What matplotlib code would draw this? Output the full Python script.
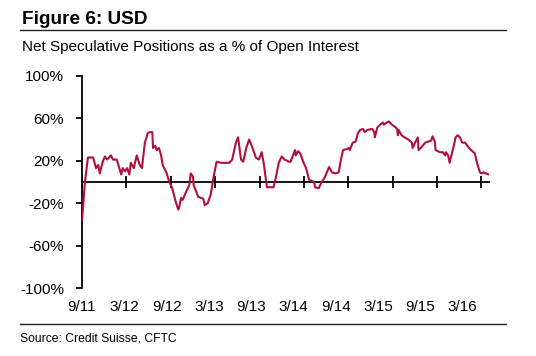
import matplotlib
matplotlib.use("Agg")
import matplotlib.pyplot as plt

plt.rcParams['font.family'] = ['Liberation Sans', 'DejaVu Sans']

# months since Sep 2011 and net positions (% of open interest)
months = [0, 0.4, 0.8, 1.5, 1.9, 2.2, 2.4, 2.8, 3.1, 3.4, 3.9, 4.2, 4.7, 5.3, 5.5,
          5.8, 6.1, 6.4, 6.6, 7.0, 7.4, 7.8, 8.1, 8.5, 8.9, 9.2, 9.5, 9.6, 9.9,
          10.1, 10.4, 10.7, 10.9, 11.4, 11.8, 12.2, 12.6, 13.0, 13.1, 13.4, 13.6,
          14.1, 14.5, 14.7, 15.0, 15.1, 15.7, 16.4, 16.6, 17.0, 17.4, 17.8, 18.2,
          18.8, 19.2, 19.9, 20.3, 20.8, 21.1, 21.5, 21.8, 22.2, 22.6, 23.0, 23.5,
          23.9, 24.3, 24.6, 25.0, 25.5, 25.9, 26.2, 26.6, 27.0, 27.4, 28.0, 28.2,
          28.8, 28.9, 29.2, 29.5, 29.9, 30.3, 30.7, 31.4, 31.5, 32.0, 32.4, 32.8,
          33.4, 33.8, 34.2, 34.7, 35.0, 35.3, 35.8, 36.1, 36.2, 36.6, 37.0, 37.3,
          37.6, 38.0, 38.2, 38.6, 39.2, 39.5, 39.6, 39.9, 40.3, 40.7, 40.8, 41.2,
          41.5, 41.9, 42.3, 42.6, 42.7, 42.8, 43.2, 43.6, 44.1, 44.6, 44.7, 45.1,
          45.4, 45.5, 45.8, 46.4, 46.8, 47.2, 47.4, 47.7, 47.8, 48.4, 48.8, 49.1,
          49.2, 49.5, 49.7, 49.9, 50.3, 50.5, 50.8, 51.1, 51.4, 51.8, 52.2, 52.6,
          53.1, 53.4, 53.8, 54.0, 54.3, 54.6, 55.0]
net_pos = [-36, 0, 23, 23, 13, 16, 8, 19, 24, 21, 25, 21, 21, 7, 13,
           10, 13, 7, 18, 13, 25, 16, 13, 37, 46, 47, 47, 32, 34,
           30, 32, 25, 16, 9, 0, -6, -17, -26, -25, -15, -17,
           -9, -3, 8, 5, -3, -14, -16, -22, -20, -12, 5, 19,
           18, 18, 18, 21, 37, 42, 21, 19, 32, 40, 33, 23,
           21, 28, 16, -5, -5, -5, 4, 18, 24, 21, 19, 19,
           30, 25, 29, 27, 19, 13, 2, 0, -5, -6, 0, 4,
           14, 9, 8, 9, 21, 30, 31, 32, 30, 37, 38, 46,
           49, 50, 47, 49, 50, 47, 42, 51, 54, 56, 54, 56,
           57, 54, 52, 50, 44, 49, 44, 42, 40, 37, 32, 38,
           42, 30, 32, 37, 38, 39, 43, 38, 30, 28, 28, 25,
           28, 25, 18, 24, 35, 42, 44, 42, 37, 37, 33, 30,
           27, 18, 9, 8, 9, 8, 7]

tick_months = [0, 6, 12, 18, 24, 30, 36, 42, 48, 54]
tick_labels = ['9/11', '3/12', '9/12', '3/13', '9/13', '3/14', '9/14', '3/15', '9/15', '3/16']
y_ticks = [-100, -60, -20, 20, 60, 100]

fig = plt.figure(figsize=(5.36, 3.56), dpi=100)
ax = fig.add_axes([0.153, 0.191, 0.759, 0.596])

ax.plot(months, net_pos, color='#B0103A', lw=1.5, zorder=3)

ax.set_xlim(0, 55.0)
ax.set_ylim(-100, 100)

# y axis
ax.spines['top'].set_visible(False)
ax.spines['right'].set_visible(False)
ax.spines['left'].set_linewidth(1.3)
ax.set_yticks(y_ticks)
ax.set_yticklabels(['%d%%' % v for v in y_ticks])
ax.tick_params(axis='y', direction='out', length=4, width=1.3, pad=9, labelsize=11)

# x axis sits on the zero line, labels below the plot
ax.spines['bottom'].set_position(('data', 0))
ax.spines['bottom'].set_linewidth(1.3)
ax.set_xticks(tick_months)
ax.set_xticklabels([])
ax.tick_params(axis='x', direction='inout', length=8, width=1.3)
for m, lab in zip(tick_months, tick_labels):
    ax.text(m - 0.28 * m / 6, -0.09, lab, transform=ax.get_xaxis_transform(),
            ha='center', va='center', fontsize=11)

# header and footer
fig.text(0.041, 0.944, 'Figure 6: USD', fontsize=13.7, fontweight='bold',
         ha='left', va='center')
fig.add_artist(plt.Line2D([0.037, 0.944], [0.915, 0.915], color='#222222', lw=1.0))
fig.text(0.041, 0.868, 'Net Speculative Positions as a % of Open Interest',
         fontsize=11, ha='left', va='center')
fig.add_artist(plt.Line2D([0.037, 0.944], [0.09, 0.09], color='#222222', lw=1.0))
fig.text(0.037, 0.048, 'Source: Credit Suisse, CFTC', fontsize=8.7, ha='left', va='center')

fig.savefig('out.png', dpi=100)
